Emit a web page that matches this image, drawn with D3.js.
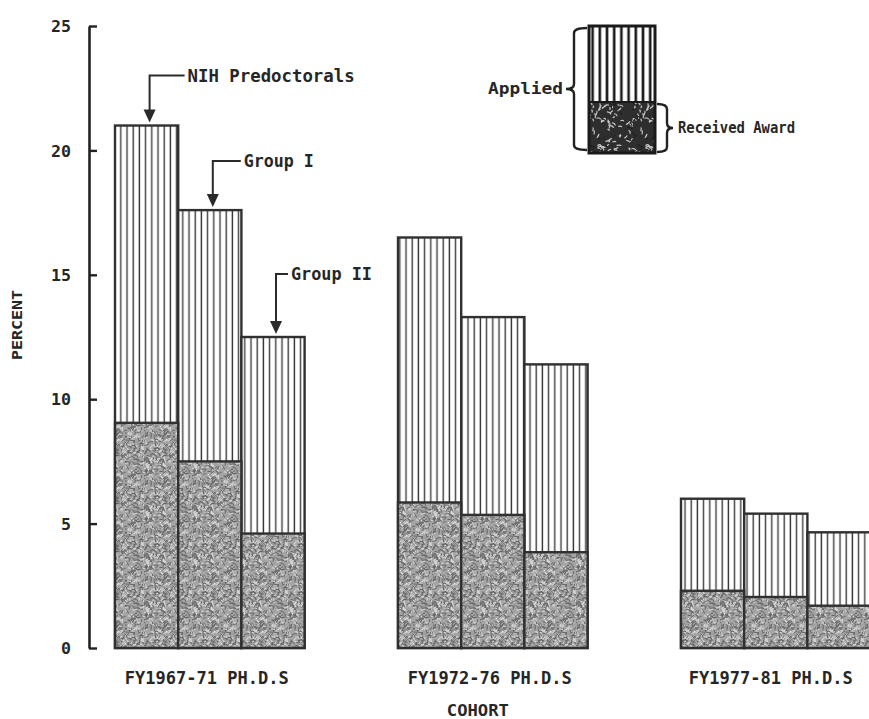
<!DOCTYPE html>
<html><head><meta charset="utf-8">
<script src="https://cdn.jsdelivr.net/npm/d3@7"></script>
<style>
html,body{margin:0;padding:0;background:#fff;}
svg{display:block;}
text{font-family:"DejaVu Sans Mono","Liberation Mono",monospace;font-weight:bold;fill:#262626;}
</style></head>
<body>
<svg id="chart" width="869" height="719"></svg>
<script>
// ---- data ----
const cohorts = ["FY1967-71 PH.D.S", "FY1972-76 PH.D.S", "FY1977-81 PH.D.S"];
const groups = ["NIH Predoctorals", "Group I", "Group II"];
const applied = [
  [21.0, 17.6, 12.5],
  [16.5, 13.3, 11.4],
  [6.0, 5.4, 4.65]
];
const received = [
  [9.05, 7.5, 4.6],
  [5.85, 5.35, 3.85],
  [2.3, 2.05, 1.7]
];
const yTicks = [0, 5, 10, 15, 20, 25];
const yLabel = "PERCENT";
const xLabel = "COHORT";
const legendLabels = ["Applied", "Received Award"];

// ---- setup ----
const svg = d3.select("#chart");
const defs = svg.append("defs");

// vertical line hatch
const hatch = defs.append("pattern").attr("id","hatch").attr("patternUnits","userSpaceOnUse")
  .attr("width",6.2).attr("height",10);
hatch.append("rect").attr("width",6.2).attr("height",10).attr("fill","#fff");
hatch.append("line").attr("x1",3).attr("x2",3).attr("y1",0).attr("y2",10).attr("stroke","#3a3a3a").attr("stroke-width",1.4);

const hatchL = defs.append("pattern").attr("id","hatchL").attr("patternUnits","userSpaceOnUse")
  .attr("width",7.2).attr("height",10).attr("x",589);
hatchL.append("rect").attr("width",7.2).attr("height",10).attr("fill","#fff");
hatchL.append("line").attr("x1",3.6).attr("x2",3.6).attr("y1",0).attr("y2",10).attr("stroke","#1a1a1a").attr("stroke-width",2.6);

// stipple texture (deterministic pseudo-random tile)
function makeStipple(id, base, dark, light, nDark, nLight, sw){
  let s = id.length*7919 + 12345;
  const rnd = () => { s = (s*1103515245 + 12345) % 2147483648; return s/2147483648; };
  const T = 48;
  const p = defs.append("pattern").attr("id",id).attr("patternUnits","userSpaceOnUse").attr("width",T).attr("height",T);
  p.append("rect").attr("width",T).attr("height",T).attr("fill",base);
  for(let i=0;i<nLight;i++){
    const x=rnd()*T, y=rnd()*T, a=rnd()*Math.PI*2, l=1.5+rnd()*3;
    p.append("path").attr("d",`M${x},${y} q${Math.cos(a)*l/2+0.8},${Math.sin(a)*l/2-0.8} ${Math.cos(a)*l},${Math.sin(a)*l}`)
      .attr("stroke",light).attr("stroke-width",1.2).attr("fill","none").attr("stroke-linecap","round");
  }
  for(let i=0;i<nDark;i++){
    const x=rnd()*T, y=rnd()*T, a=rnd()*Math.PI*2, l=2+rnd()*3;
    p.append("path").attr("d",`M${x},${y} q${Math.cos(a)*l/2+1},${Math.sin(a)*l/2-1} ${Math.cos(a)*l},${Math.sin(a)*l}`)
      .attr("stroke",dark).attr("stroke-width",sw).attr("fill","none").attr("stroke-linecap","round");
  }
}
makeStipple("stip", "#a4a4a4", "#636363", "#d4d4d4", 200, 160, 1.0);
makeStipple("stipL", "#2e2e2e", "#1c1c1c", "#c8c8c8", 30, 70, 1.0);

// ---- scales ----
const y = d3.scaleLinear().domain([0,25]).range([648,26]);
const x0 = d3.scaleBand().domain(cohorts).range([115, 870.6]).paddingInner(0.33).paddingOuter(0);
const x1 = d3.scaleBand().domain(groups).range([0, x0.bandwidth()]).padding(0);

// ---- bars ----
const data = [];
cohorts.forEach((c,i)=>groups.forEach((g,j)=>data.push({c, g, a: applied[i][j], r: received[i][j]})));

const bars = svg.append("g");
bars.selectAll("rect.app").data(data).join("rect").attr("class","app")
  .attr("x",d=>x0(d.c)+x1(d.g)).attr("width",x1.bandwidth())
  .attr("y",d=>y(d.a)).attr("height",d=>y(0)-y(d.a))
  .attr("fill","url(#hatch)").attr("stroke","#303030").attr("stroke-width",2.4);
bars.selectAll("rect.rec").data(data).join("rect").attr("class","rec")
  .attr("x",d=>x0(d.c)+x1(d.g)).attr("width",x1.bandwidth())
  .attr("y",d=>y(d.r)).attr("height",d=>y(0)-y(d.r))
  .attr("fill","url(#stip)").attr("stroke","#303030").attr("stroke-width",2.4);

// ---- y axis ----
const yAxis = d3.axisLeft(y).tickValues(yTicks).tickSizeInner(-8).tickSizeOuter(0).tickPadding(18);
const ga = svg.append("g").attr("transform","translate(89,0)").call(yAxis);
ga.select(".domain").attr("stroke","#222").attr("stroke-width",2.6);
ga.selectAll(".tick line").attr("stroke","#222").attr("stroke-width",2.4);
ga.selectAll(".tick text").attr("font-family","DejaVu Sans Mono").attr("font-weight","bold")
  .attr("font-size",16).attr("fill","#222").attr("dy","0.35em")
  .attr("textLength",d=>String(d).length*10).attr("lengthAdjust","spacingAndGlyphs");

svg.append("text").attr("transform","translate(22,325) rotate(-90)").attr("text-anchor","middle")
  .attr("font-size",14.5).attr("textLength",70).attr("lengthAdjust","spacingAndGlyphs").text(yLabel);

// category labels
svg.selectAll("text.cat").data(cohorts).join("text").attr("class","cat")
  .attr("x",(d,i)=>x0(d)+x0.bandwidth()/2 - 3 - (i===2?2:0)).attr("y",684).attr("text-anchor","middle")
  .attr("font-size",17.5).attr("textLength",164).attr("lengthAdjust","spacingAndGlyphs").text(d=>d);

svg.append("text").attr("x",x0(cohorts[1])+x0.bandwidth()/2 - 15).attr("y",716).attr("text-anchor","middle")
  .attr("font-size",16).attr("textLength",62).attr("lengthAdjust","spacingAndGlyphs").text(xLabel);

// ---- annotations (first cohort) ----
const annOffsets = [{rise:50, hx:35, tl:167}, {rise:49, hx:28, tl:70}, {rise:63, hx:12, tl:81}];
const ann = svg.append("g");
groups.forEach((g,j)=>{
  const bx = x0(cohorts[0]) + x1(g) + x1.bandwidth()/2 + 3;
  const top = y(applied[0][j]);
  const o = annOffsets[j];
  const ly = top - o.rise;
  ann.append("path").attr("d",`M${bx},${top-14} L${bx},${ly} L${bx+o.hx},${ly}`)
    .attr("fill","none").attr("stroke","#2a2a2a").attr("stroke-width",2);
  ann.append("path").attr("d",`M${bx-6},${top-16} L${bx+6},${top-16} L${bx},${top-3} Z`).attr("fill","#2a2a2a");
  ann.append("text").attr("x",bx+o.hx+3).attr("y",ly+6).attr("font-size",17)
    .attr("textLength",o.tl).attr("lengthAdjust","spacingAndGlyphs").text(g);
});

// ---- legend ----
const lg = svg.append("g");
const lx=589, lw=66, lt=26, lm=102, lb=153;
lg.append("rect").attr("x",lx).attr("y",lt).attr("width",lw).attr("height",lb-lt).attr("fill","url(#hatchL)");
lg.append("rect").attr("x",lx).attr("y",lm).attr("width",lw).attr("height",lb-lm).attr("fill","url(#stipL)");
lg.append("rect").attr("x",lx).attr("y",lt).attr("width",lw).attr("height",lb-lt).attr("fill","none")
  .attr("stroke","#1a1a1a").attr("stroke-width",3);
lg.append("line").attr("x1",lx).attr("x2",lx+lw).attr("y1",lm).attr("y2",lm).attr("stroke","#1a1a1a").attr("stroke-width",2);

function brace(xEnd, xSpine, xTip, y1, y2){
  const ym=(y1+y2)/2, r=5;
  return `M${xEnd},${y1} Q${xSpine},${y1} ${xSpine},${y1+r} L${xSpine},${ym-r} Q${xSpine},${ym} ${xTip},${ym} `+
         `Q${xSpine},${ym} ${xSpine},${ym+r} L${xSpine},${y2-r} Q${xSpine},${y2} ${xEnd},${y2}`;
}
lg.append("path").attr("d",brace(587,574,566,28,150)).attr("fill","none").attr("stroke","#222").attr("stroke-width",2.4);
lg.append("path").attr("d",brace(657,667,673,104,152)).attr("fill","none").attr("stroke","#222").attr("stroke-width",2.4);
lg.append("text").attr("x",488).attr("y",94).attr("font-size",15).attr("textLength",75)
  .attr("lengthAdjust","spacingAndGlyphs").text(legendLabels[0]);
lg.append("text").attr("x",678).attr("y",133).attr("font-size",15).attr("textLength",117)
  .attr("lengthAdjust","spacingAndGlyphs").text(legendLabels[1]);
</script>
</body></html>
